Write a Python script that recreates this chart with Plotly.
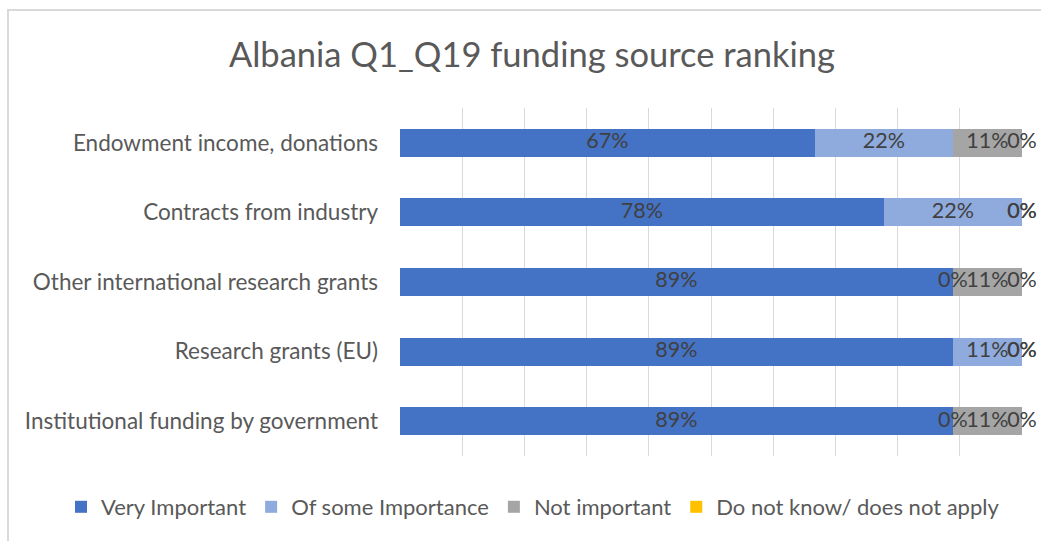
import plotly.graph_objects as go

categories = [
    "Institutional funding by government",
    "Research grants (EU)",
    "Other international research grants",
    "Contracts from industry",
    "Endowment income, donations",
]
series_names = ["Very Important", "Of some Importance", "Not important", "Do not know/ does not apply"]
very_important = [88.89, 88.89, 88.89, 77.78, 66.67]
some_importance = [0.0, 11.11, 0.0, 22.22, 22.22]
not_important = [11.11, 0.0, 11.11, 0.0, 11.11]
do_not_know = [0.0, 0.0, 0.0, 0.0, 0.0]
colors = ["#4472C4", "#8FAADC", "#A5A5A5", "#FFC000"]

FONT = "Lato"
FS = 22.5
fig = go.Figure()

all_series = [very_important, some_importance, not_important, do_not_know]
for name, vals, col in zip(series_names, all_series, colors):
    fig.add_trace(go.Bar(
        y=categories, x=vals, name=name, orientation="h",
        marker=dict(color=col, line=dict(width=0)),
        hoverinfo="x+name",
    ))

# data labels centred on each segment (zero segments sit on the boundary)
cum = [0.0] * len(categories)
for vals in all_series:
    xs = [c + v / 2 for c, v in zip(cum, vals)]
    fig.add_trace(go.Scatter(
        x=xs, y=categories, mode="text",
        text=[f"{v:.0f}%" for v in vals],
        textposition="middle center",
        textfont=dict(family=FONT, size=21.5, color="#404040"),
        showlegend=False, hoverinfo="skip", cliponaxis=False,
    ))
    cum = [c + v for c, v in zip(cum, vals)]

fig.update_layout(
    width=1041, height=541,
    barmode="stack", bargap=0.6,
    paper_bgcolor="white", plot_bgcolor="white",
    margin=dict(l=400, r=19, t=108, b=85),
    font=dict(family=FONT, color="#595959", size=FS),
    title=dict(text="Albania Q1_Q19 funding source ranking",
               x=0.511, xref="container", xanchor="center",
               y=1 - 55 / 541, yref="container", yanchor="middle",
               font=dict(family=FONT, size=34.5, color="#595959")),
    legend=dict(orientation="h", xref="paper", x=(61 - 400) / 622, xanchor="left",
                yref="paper", y=(456 - 507) / 348, yanchor="middle",
                font=dict(family=FONT, size=22, color="#595959"),
                traceorder="normal"),
    xaxis=dict(range=[0, 100], dtick=10, showticklabels=False,
               showgrid=True, gridcolor="#D9D9D9", gridwidth=1.3,
               zeroline=False, showline=False, ticks=""),
    yaxis=dict(type="category", categoryorder="array", categoryarray=categories,
               showgrid=False, zeroline=False, showline=False, ticks="",
               ticklabelstandoff=21,
               tickfont=dict(family=FONT, size=FS, color="#595959")),
    shapes=[dict(type="rect", xref="paper", yref="paper",
                 x0=(8 - 400) / 622, x1=(1050 - 400) / 622,
                 y0=(456 - 550) / 348, y1=(456 - 10) / 348,
                 line=dict(color="#D9D9D9", width=2), fillcolor="rgba(0,0,0,0)",
                 layer="below")],
)

fig.write_html("out.html", config={"displayModeBar": False},
               post_script="document.body.style.margin='0';document.body.style.overflow='hidden';")
